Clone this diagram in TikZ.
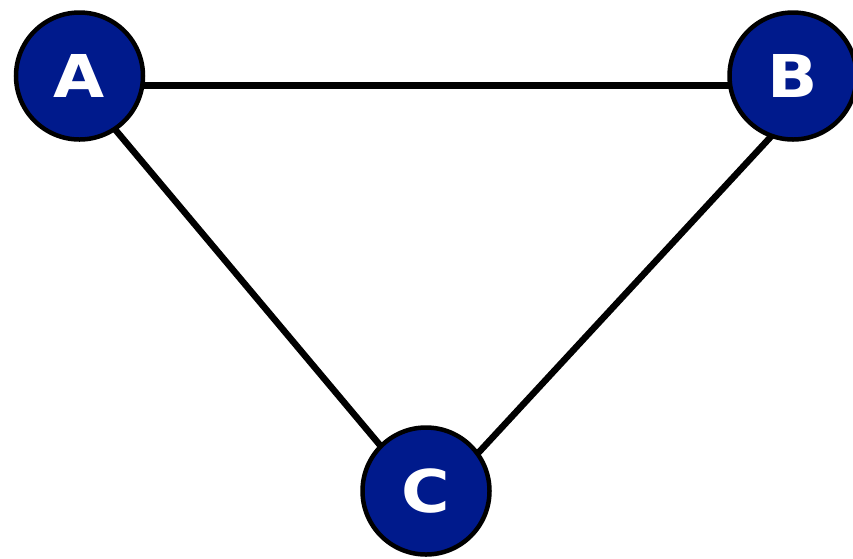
\documentclass[tikz,border=0pt]{standalone}
\usepackage{fontspec}
\setmainfont{DejaVu Sans}
\usetikzlibrary{backgrounds}
\definecolor{nodeblue}{RGB}{0,26,140}
\tikzset{
  vertex/.style={circle, draw=black, line width=4.5pt, fill=nodeblue, inner sep=0pt,
    minimum size=127pt, text=white, font=\fontsize{59}{59}\selectfont\bfseries},
  edge/.style={draw=black, line width=6.5pt}
}
\newcommand{\wideletter}[1]{\scalebox{1.12}[1]{#1}}
\begin{document}
\begin{tikzpicture}[x=1pt,y=-1pt]
\useasboundingbox (0,0) rectangle (853,558);
\node[vertex] (A) at (79.5,76) {\wideletter{A}};
\node[vertex] (B) at (793,76) {\wideletter{B}};
\node[vertex] (C) at (426,491) {\wideletter{C}};
\begin{pgfonlayer}{background}
\draw[edge] ([shift={(0,9.5)}]A.center) -- ([shift={(0,9.5)}]B.center);
\draw[edge] ([shift={(0,11)}]A.center) -- ([shift={(0,9)}]C.center);
\draw[edge] ([shift={(34,0)}]B.center) -- ([shift={(17,0)}]C.center);
\end{pgfonlayer}
\end{tikzpicture}
\end{document}
